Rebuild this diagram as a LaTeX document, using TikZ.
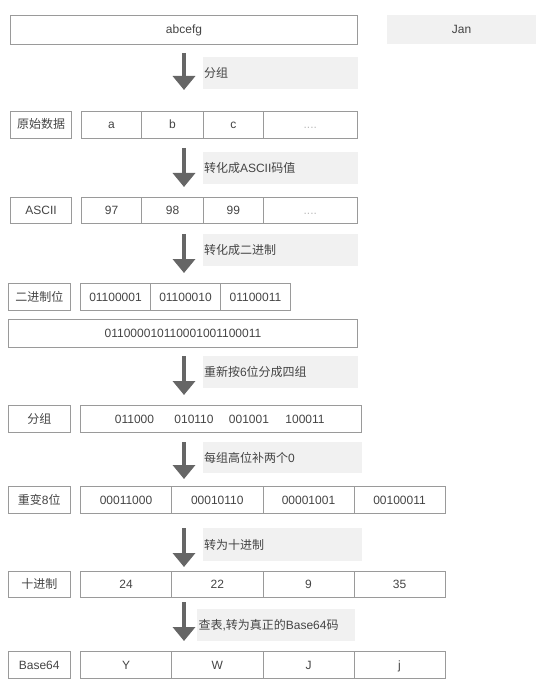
\documentclass[tikz,border=0pt]{standalone}
\usepackage{fontspec}
\setmainfont{Liberation Sans}
\newfontfamily\cjk{Noto Sans CJK SC}
\usetikzlibrary{arrows.meta}
\definecolor{boxgray}{HTML}{9A9A9A}
\definecolor{txtgray}{HTML}{444444}
\definecolor{dotgray}{HTML}{BBBBBB}
\definecolor{tagfill}{HTML}{F1F1F1}
\definecolor{arrowgray}{HTML}{666666}
\begin{document}
\begin{tikzpicture}[x=1pt,y=-1pt,
  cell node/.style={draw=boxgray,line width=0.9pt,text=txtgray,inner sep=0pt,
    text height=9pt,text depth=0pt,font=\fontsize{12}{14}\selectfont},
  bits node/.style={text=txtgray,inner sep=0pt,text height=9pt,text depth=0pt,
    font=\fontsize{12}{14}\selectfont},
  tag node/.style={fill=tagfill,text=txtgray,inner xsep=1.5pt,inner ysep=0pt,
    align=left,text height=9pt,text depth=0pt,font=\fontsize{12}{14}\selectfont},
  flow arrow/.style={color=arrowgray,line width=4.5pt,
    -{Triangle[width=22pt,length=14pt]}}]

  \useasboundingbox (0,0) rectangle (554,684);

  % top
  \node[cell node,minimum width=347pt,minimum height=29pt] (src) at (184,29.5) {abcefg};
  \node[tag node,fill=tagfill,minimum width=149pt,minimum height=29pt,align=center] (jan) at (461.5,29.5) {Jan};

  % step labels
  \node[tag node,text width=152pt,minimum height=32pt] (t1) at (280,73) {\cjk 分组};
  \node[tag node,text width=152pt,minimum height=32pt] (t2) at (280,168) {{\cjk 转化成}ASCII{\cjk 码值}};
  \node[tag node,text width=152pt,minimum height=32pt] (t3) at (280,250) {\cjk 转化成二进制};
  \node[tag node,text width=152pt,minimum height=32pt] (t4) at (280,372) {{\cjk 重新按}6{\cjk 位分成四组}};
  \node[tag node,text width=156pt,minimum height=31pt] (t5) at (282,457.5) {{\cjk 每组高位补两个}0};
  \node[tag node,text width=156pt,minimum height=33pt] (t6) at (282,544.5) {\cjk 转为十进制};
  \node[tag node,text width=155pt,minimum height=32pt] (t7) at (276,625) {{\cjk 查表},{\cjk 转为真正的}Base64{\cjk 码}};

  % raw data
  \node[cell node,minimum width=61pt,minimum height=27pt] (raw) at (41,124.5) {\cjk 原始数据};
  \node[cell node,minimum width=60pt,minimum height=27pt] (raw1) at (111.5,124.5) {a};
  \node[cell node,minimum width=62pt,minimum height=27pt] (raw2) at (172.5,124.5) {b};
  \node[cell node,minimum width=59.5pt,minimum height=27pt] (raw3) at (233.25,124.5) {c};
  \node[cell node,minimum width=94.5pt,minimum height=27pt,text=dotgray] (raw4) at (310.25,124.5) {....};

  % ascii
  \node[cell node,minimum width=61pt,minimum height=26pt] (asc) at (41,210) {ASCII};
  \node[cell node,minimum width=60pt,minimum height=26pt] (asc1) at (111.5,210) {97};
  \node[cell node,minimum width=62pt,minimum height=26pt] (asc2) at (172.5,210) {98};
  \node[cell node,minimum width=59.5pt,minimum height=26pt] (asc3) at (233.25,210) {99};
  \node[cell node,minimum width=94.5pt,minimum height=26pt,text=dotgray] (asc4) at (310.25,210) {....};

  % binary
  \node[cell node,minimum width=61.5pt,minimum height=27pt] (bin) at (39.25,296.5) {\cjk 二进制位};
  \node[cell node,minimum width=70pt,minimum height=27pt] (bin1) at (115.5,296.5) {01100001};
  \node[cell node,minimum width=70pt,minimum height=27pt] (bin2) at (185.5,296.5) {01100010};
  \node[cell node,minimum width=70pt,minimum height=27pt] (bin3) at (255.5,296.5) {01100011};
  \node[cell node,minimum width=349pt,minimum height=28pt] (all) at (183,333) {011000010110001001100011};

  % six bit groups
  \node[cell node,minimum width=61.5pt,minimum height=27pt] (grp) at (39.25,418.5) {\cjk 分组};
  \node[cell node,minimum width=281pt,minimum height=27pt] (grpbox) at (221,418.5) {};
  \node[bits node] (g1) at (134.5,418.5) {011000};
  \node[bits node] (g2) at (194,418.5) {010110};
  \node[bits node] (g3) at (249,418.5) {001001};
  \node[bits node] (g4) at (305,418.5) {100011};

  % eight bit
  \node[cell node,minimum width=61.5pt,minimum height=27pt] (oct) at (39.25,499.5) {{\cjk 重变}8{\cjk 位}};
  \node[cell node,minimum width=91pt,minimum height=27pt] (oct1) at (126,499.5) {00011000};
  \node[cell node,minimum width=91.5pt,minimum height=27pt] (oct2) at (217.25,499.5) {00010110};
  \node[cell node,minimum width=91pt,minimum height=27pt] (oct3) at (308.5,499.5) {00001001};
  \node[cell node,minimum width=91pt,minimum height=27pt] (oct4) at (399.5,499.5) {00100011};

  % decimal
  \node[cell node,minimum width=61.5pt,minimum height=26pt] (dec) at (39.25,584) {\cjk 十进制};
  \node[cell node,minimum width=91pt,minimum height=26pt] (dec1) at (126,584) {24};
  \node[cell node,minimum width=91.5pt,minimum height=26pt] (dec2) at (217.25,584) {22};
  \node[cell node,minimum width=91pt,minimum height=26pt] (dec3) at (308.5,584) {9};
  \node[cell node,minimum width=91pt,minimum height=26pt] (dec4) at (399.5,584) {35};

  % base64
  \node[cell node,minimum width=61.5pt,minimum height=27pt] (b64) at (39.25,664.5) {Base64};
  \node[cell node,minimum width=91pt,minimum height=27pt] (b641) at (126,664.5) {Y};
  \node[cell node,minimum width=91.5pt,minimum height=27pt] (b642) at (217.25,664.5) {W};
  \node[cell node,minimum width=91pt,minimum height=27pt] (b643) at (308.5,664.5) {J};
  \node[cell node,minimum width=91pt,minimum height=27pt] (b644) at (399.5,664.5) {j};

  % arrows
  \coordinate (a1s) at (184,53);  \coordinate (a1e) at (184,90);
  \coordinate (a2s) at (184,148); \coordinate (a2e) at (184,187);
  \coordinate (a3s) at (184,234); \coordinate (a3e) at (184,273);
  \coordinate (a4s) at (184,356); \coordinate (a4e) at (184,395);
  \coordinate (a5s) at (184,442); \coordinate (a5e) at (184,479);
  \coordinate (a6s) at (184,528); \coordinate (a6e) at (184,567);
  \coordinate (a7s) at (184,602); \coordinate (a7e) at (184,641);

  \path[flow arrow]
   (a1s) edge (a1e)
   (a2s) edge (a2e)
   (a3s) edge (a3e)
   (a4s) edge (a4e)
   (a5s) edge (a5e)
   (a6s) edge (a6e)
   (a7s) edge (a7e);
\end{tikzpicture}
\end{document}
